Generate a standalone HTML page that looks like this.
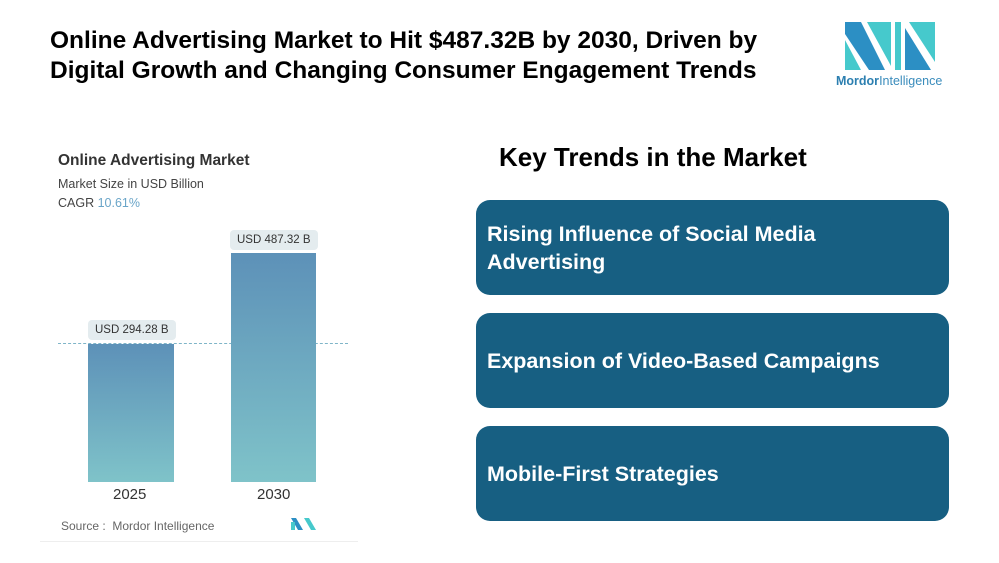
<!DOCTYPE html>
<html><head><style>
body{margin:0;width:999px;height:563px;background:#fff;position:relative;overflow:hidden;font-family:"Liberation Sans",sans-serif}
.a{position:absolute}
.t{left:50px;top:26px;font-size:24.5px;font-weight:bold;line-height:30px;color:#000;white-space:nowrap}
.box{left:476px;width:473px;height:95px;background:#175f82;border-radius:14px;color:#fff;font-weight:bold;font-size:21.5px;line-height:28px;box-sizing:border-box;padding-left:11px;display:flex;align-items:center}
.lbl{background:#e4ecef;border-radius:4px;font-size:11.5px;color:#333;padding:2px 7px;height:16px;line-height:16px}
.bar{background:linear-gradient(#5d91b8,#7fc3c9)}
</style></head><body>
<div class="a t">Online Advertising Market to Hit $487.32B by 2030, Driven by<br>Digital Growth and Changing Consumer Engagement Trends</div>
<svg class="a" style="left:845px;top:22px" width="92" height="48" viewBox="0 0 92 48">
<polygon points="0,0 16,0 40,48 24,48 0,12" fill="#2c8fc4"/>
<polygon points="0,18 16,48 0,48" fill="#46c9cc"/>
<polygon points="22,0 46,0 46,44" fill="#46c9cc"/>
<polygon points="50,0 56,0 56,48 50,48" fill="#46c9cc"/>
<polygon points="60,6 86,48 60,48" fill="#2c8fc4"/>
<polygon points="64,0 90,0 90,40" fill="#46c9cc"/>
</svg>
<div class="a" style="left:836px;top:74px;font-size:12.5px;color:#2c7fb0"><b>Mordor</b><span style="color:#3a8cbc">Intelligence</span></div>
<div class="a" style="left:58px;top:152px;font-size:15.5px;color:#333;font-weight:bold">Online Advertising Market</div>
<div class="a" style="left:58px;top:177px;font-size:12.5px;color:#444">Market Size in USD Billion</div>
<div class="a" style="left:58px;top:196px;font-size:12.5px;color:#444">CAGR <span style="color:#6aa5c8">10.61%</span></div>
<div class="a" style="left:58px;top:343px;width:290px;border-top:1.5px dashed #7fb5c8"></div>
<div class="a bar" style="left:88px;top:344px;width:86px;height:138px"></div>
<div class="a bar" style="left:231px;top:253px;width:85px;height:229px"></div>
<div class="a lbl" style="left:88px;top:320px">USD 294.28 B</div>
<div class="a lbl" style="left:230px;top:230px">USD 487.32 B</div>
<div class="a" style="left:113px;top:486px;font-size:15px;color:#333">2025</div>
<div class="a" style="left:257px;top:486px;font-size:15px;color:#333">2030</div>
<div class="a" style="left:61px;top:519px;font-size:12px;color:#666">Source :&nbsp; Mordor Intelligence</div>
<svg class="a" style="left:291px;top:518px" width="25" height="12"><polygon points="0,0 5,0 12,12 7,12" fill="#2c8fc4"/><polygon points="13,0 18,0 25,12 20,12" fill="#46c9cc"/><rect x="0" y="4" width="4" height="8" fill="#46c9cc"/></svg>
<div class="a" style="left:40px;top:541px;width:318px;border-top:1px solid #eee"></div>
<div class="a" style="left:499px;top:142px;font-size:26px;font-weight:bold;color:#000">Key Trends in the Market</div>
<div class="a box" style="top:200px">Rising Influence of Social Media<br>Advertising</div>
<div class="a box" style="top:313px">Expansion of Video-Based Campaigns</div>
<div class="a box" style="top:426px">Mobile-First Strategies</div>
</body></html>
